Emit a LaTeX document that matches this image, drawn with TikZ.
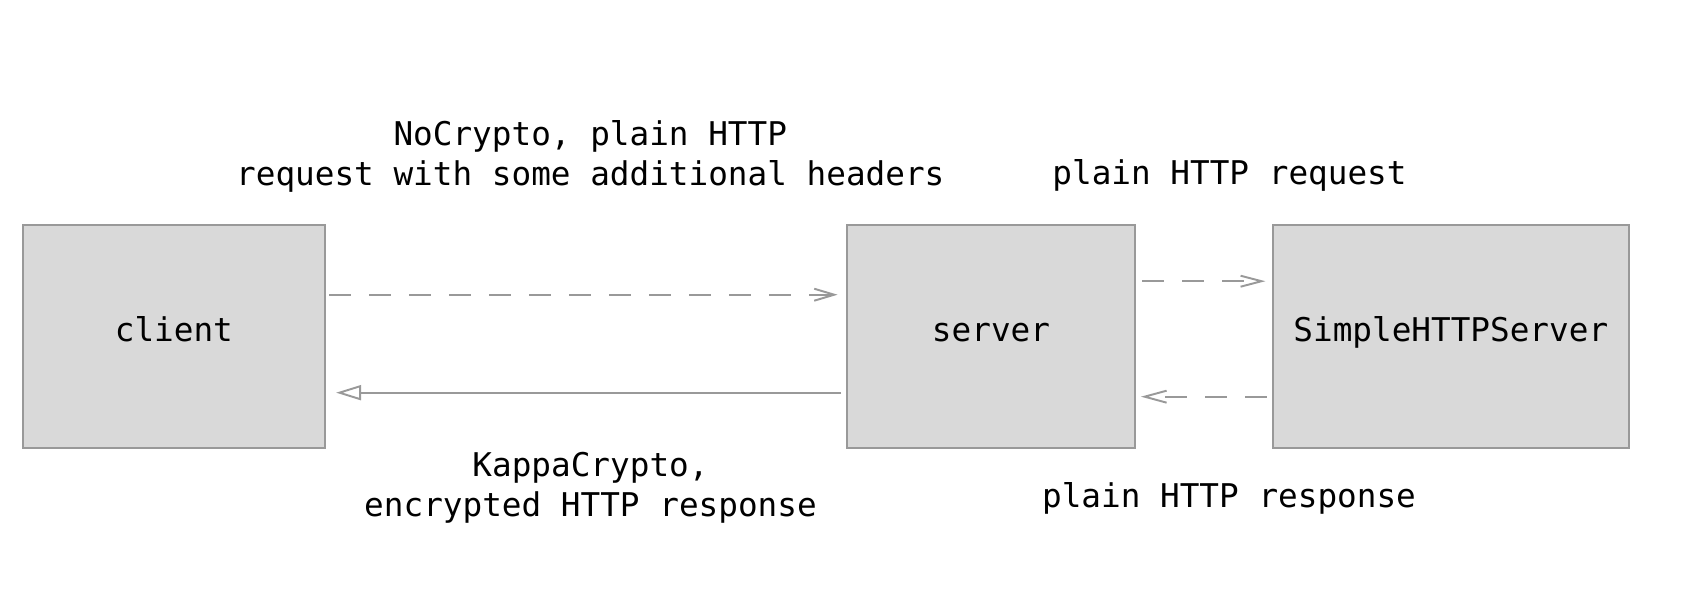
\documentclass[tikz,border=0pt]{standalone}
\usepackage{fontspec}
\setmonofont{DejaVu Sans Mono}
\usetikzlibrary{arrows.meta}
\definecolor{boxfill}{HTML}{D9D9D9}
\definecolor{linegray}{HTML}{999999}

\begin{document}
\begin{tikzpicture}[x=0.02cm,y=-0.02cm,
  box/.style={draw=linegray,line width=1.1pt,fill=boxfill,minimum height=4.47cm,inner sep=0pt,text height=0.5cm,text depth=0.29cm,font=\ttfamily\fontsize{18.6}{22.8}\selectfont},
  lbl/.style={align=center,inner sep=0pt,font=\ttfamily\fontsize{18.6}{22.8}\selectfont},
  conn/.style={draw=linegray,line width=1.1pt},
  dsh/.style={dash pattern=on 0.44cm off 0.36cm}]
\useasboundingbox (0,0) rectangle (1690,604);

\node[box,minimum width=6.05cm] (client) at (173.9,336.7) {client};
\node[box,minimum width=5.76cm] (server) at (991,336.7) {server};
\node[box,minimum width=7.12cm] (shs) at (1450.8,336.7) {SimpleHTTPServer};

\node[lbl] (reqleft) at (590.3,156.2) {NoCrypto, plain HTTP\\request with some additional headers};
\node[lbl] (reqright) at (1229.5,175.8) {plain HTTP request};
\node[lbl] (resleft) at (590.5,487.8) {KappaCrypto,\\encrypted HTTP response};
\node[lbl] (resright) at (1229,498.2) {plain HTTP response};

\draw[conn,dsh,-{Straight Barb[length=0.4cm,width=0.24cm]},shorten <=0.06cm,shorten >=0.17cm] ([yshift=0.84cm]client.east) -- ([yshift=0.84cm]server.west);
\draw[conn,-{Triangle[open,length=0.5cm,width=0.3cm]},shorten <=0.1cm,shorten >=0.2cm] ([yshift=-1.12cm]server.west) -- ([yshift=-1.12cm]client.east);
\draw[conn,dsh,-{Straight Barb[length=0.42cm,width=0.22cm]},shorten <=0.13cm,shorten >=0.13cm] ([yshift=1.11cm]server.east) -- ([yshift=1.11cm]shs.west);
\draw[conn,dsh,-{Straight Barb[length=0.44cm,width=0.24cm]},shorten <=0.1cm,shorten >=0.1cm] ([yshift=-1.2cm]shs.west) -- ([yshift=-1.2cm]server.east);

\end{tikzpicture}
\end{document}
